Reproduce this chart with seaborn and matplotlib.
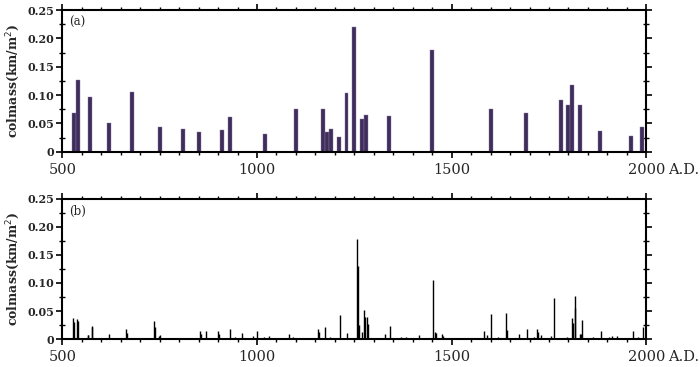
import numpy as np
import pandas as pd
import seaborn as sns
import matplotlib.pyplot as plt

# panel (a): decadal column mass
years_a = [530, 540, 570, 620, 680, 750, 810, 850, 910, 930,
           1020, 1100, 1170, 1180, 1190, 1210, 1230, 1250, 1270, 1280,
           1340, 1450, 1600, 1690, 1780, 1800, 1810, 1830, 1880, 1960, 1990]
mass_a = [0.068, 0.126, 0.097, 0.050, 0.105, 0.044, 0.040, 0.035, 0.038, 0.061,
          0.031, 0.076, 0.075, 0.035, 0.040, 0.026, 0.103, 0.220, 0.057, 0.064,
          0.063, 0.180, 0.076, 0.069, 0.092, 0.082, 0.117, 0.082, 0.037, 0.028, 0.044]

# panel (b): annual column mass (spikes)
years_b = [528, 530, 539, 541, 565, 567, 575, 577, 591, 619, 664, 666, 736, 738, 748, 751,
           854, 856, 870, 900, 902, 931, 944, 962, 989, 1000, 1018, 1030, 1040, 1081, 1093,
           1110, 1120, 1130, 1140, 1157, 1160, 1176, 1187, 1213, 1232, 1257, 1259, 1261, 1269,
           1276, 1277, 1283, 1286, 1328, 1341, 1371, 1382, 1417, 1452, 1457, 1461, 1476, 1479,
           1520, 1540, 1584, 1592, 1600, 1619, 1640, 1642, 1673, 1694, 1711, 1720, 1722, 1730,
           1740, 1755, 1763, 1797, 1809, 1811, 1816, 1818, 1830, 1832, 1836, 1863, 1884, 1904,
           1913, 1926, 1965, 1978, 1992]
mass_b = [0.038, 0.030, 0.036, 0.033, 0.008, 0.007, 0.024, 0.022, 0.002, 0.009, 0.018, 0.011,
          0.032, 0.022, 0.006, 0.007, 0.015, 0.010, 0.015, 0.014, 0.009, 0.018, 0.004, 0.011,
          0.006, 0.014, 0.004, 0.005, 0.002, 0.010, 0.004, 0.002, 0.002, 0.002, 0.002, 0.018,
          0.013, 0.022, 0.004, 0.043, 0.011, 0.178, 0.131, 0.026, 0.012, 0.052, 0.040, 0.039,
          0.027, 0.010, 0.024, 0.004, 0.004, 0.007, 0.105, 0.013, 0.011, 0.009, 0.006,
          0.002, 0.002, 0.014, 0.008, 0.044, 0.004, 0.046, 0.017, 0.009, 0.018, 0.004, 0.018,
          0.013, 0.008, 0.003, 0.006, 0.073, 0.004, 0.038, 0.029, 0.077, 0.056, 0.009, 0.009,
          0.035, 0.004, 0.014, 0.004, 0.006, 0.005, 0.015, 0.004, 0.021]

xticks = [500, 1000, 1500, 2000]
yticks = [0, 0.05, 0.10, 0.15, 0.20, 0.25]
ylabels = ['0', '0.05', '0.10', '0.15', '0.20', '0.25']

df_a = pd.DataFrame({'year': years_a, 'mass': mass_a})
df_b = pd.DataFrame({'year': years_b, 'mass': mass_b})

sns.set_theme(style='white')
plt.rcParams['font.family'] = ['DejaVu Serif']
plt.rcParams['xtick.minor.visible'] = True
plt.rcParams['ytick.minor.visible'] = True

fig = plt.figure(figsize=(7, 3.67), dpi=100)
ax1 = fig.add_axes([0.089, 0.5866, 0.8343, 0.386])
ax2 = fig.add_axes([0.089, 0.0757, 0.8343, 0.383])

sns.barplot(data=df_a, x='year', y='mass', native_scale=True, width=1.0,
            color='#3f2d5c', saturation=1, errorbar=None, ax=ax1)
for p in ax1.patches:
    p.set_edgecolor('#8a7aa0')
    p.set_linewidth(0.3)

ax2.vlines(df_b['year'], 0, df_b['mass'], color='black', linewidth=1.0)

for ax, lab in [(ax1, '(a)'), (ax2, '(b)')]:
    ax.set_xlim(500, 2000)
    ax.set_ylim(0, 0.25)
    ax.set_xlabel('')
    ax.set_ylabel('colmass(km/m$^2$)', fontsize=9, fontweight='bold', labelpad=4)
    ax.set_xticks(xticks)
    ax.set_xticks(np.arange(500, 2001, 50), minor=True)
    ax.set_xticklabels([str(t) for t in xticks], fontsize=10.5)
    ax.set_yticks(yticks)
    ax.set_yticks(np.arange(0, 0.251, 0.025), minor=True)
    ax.set_yticklabels(ylabels, fontsize=8, fontweight='bold')
    ax.tick_params(which='major', direction='out', length=4, width=1.2, color='black',
                   top=True, right=True, bottom=True, left=True, pad=2)
    ax.tick_params(which='minor', direction='out', length=2.5, width=1, color='black',
                   top=True, right=True, bottom=True, left=True)
    ax.tick_params(axis='y', which='minor', direction='inout', length=4)
    ax.tick_params(axis='x', which='major', pad=4)
    for s in ax.spines.values():
        s.set_visible(True)
        s.set_color('black')
        s.set_linewidth(1.5)
    ax.text(0.012, 0.955, lab, transform=ax.transAxes, fontsize=8.5, va='top', ha='left')
    ax.annotate('A.D.', xy=(1, 0), xycoords='axes fraction', xytext=(16, -8),
                textcoords='offset points', fontsize=10.5, ha='left', va='top')
    ax.set_facecolor('white')

fig.savefig('out.png', dpi=100, facecolor='white')
